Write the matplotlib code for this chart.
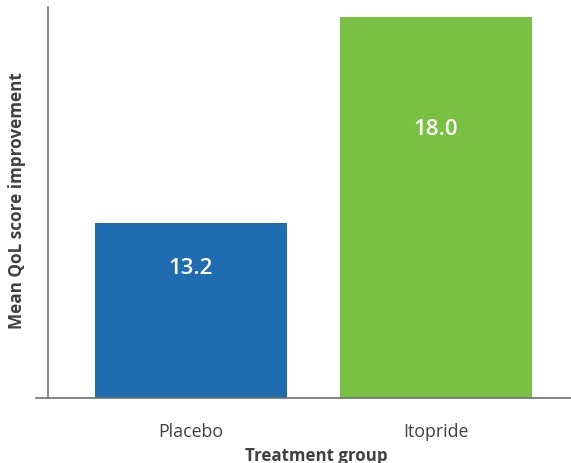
import matplotlib
matplotlib.use('Agg')
import matplotlib.pyplot as plt

# data
groups = ['Placebo', 'Itopride']
scores = [13.2, 18.0]
bar_colors = ['#1f6db0', '#7ac143']
label_y = [12.17, 15.40]   # where the value labels sit (data units)

plt.rcParams['font.family'] = ['Open Sans', 'DejaVu Sans']
text_color = '#404040'

fig = plt.figure(figsize=(5.71, 4.64), dpi=100)
W, H = 571, 464
# axes box in pixels: left 36, right 571, top 8, bottom 399
ax = fig.add_axes([36 / W, (H - 399) / H, (571 - 36) / W, (399 - 8) / H])

x = list(range(len(groups)))
ax.bar(x, scores, width=0.784, color=bar_colors)

for xi, v, ly in zip(x, scores, label_y):
    ax.text(xi, ly, '%.1f' % v, ha='center', va='center', color='white',
            fontsize=16, fontweight='semibold')

ax.set_xlim(-0.633, 1.551)
ax.set_ylim(9.12, 18.23)

ax.set_xticks(x)
ax.set_xticklabels(groups, fontsize=12.8, color=text_color)
ax.tick_params(axis='x', length=0, pad=17)
ax.set_yticks([])

for side in ['top', 'right']:
    ax.spines[side].set_visible(False)
ax.spines['left'].set_position(('data', -0.584))
ax.spines['left'].set_color('#707070')
ax.spines['bottom'].set_color('#707070')
ax.spines['left'].set_linewidth(1.2)
ax.spines['bottom'].set_linewidth(1.2)

fig.text(316 / W, 1 - 456 / H, 'Treatment group', ha='center', va='center',
         fontsize=12.2, fontweight='bold', color=text_color)
fig.text(17 / W, 1 - 201 / H, 'Mean QoL score improvement', ha='center',
         va='center', rotation=90, fontsize=12.3, fontweight='bold',
         color=text_color)

fig.savefig('out.png', dpi=100)
